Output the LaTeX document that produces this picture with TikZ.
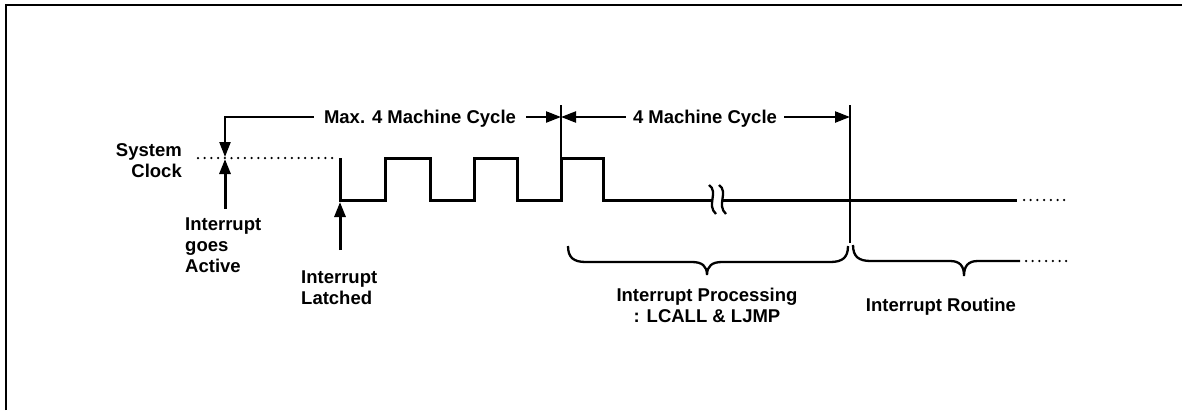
\documentclass[tikz,border=0pt]{standalone}
\usepackage{fontspec}
\setmainfont{Liberation Sans}
\usetikzlibrary{arrows.meta,calc}
\begin{document}
\begin{tikzpicture}[x=1pt,y=-1pt,
  lbl/.style={font=\fontsize{18.5}{21}\selectfont\bfseries, inner sep=0pt},
  wave/.style={line width=3pt, line join=miter},
  thinln/.style={line width=2.3pt},
  arr/.style={line width=3pt},
  dotline/.style={line width=2.5pt, dash pattern=on 0pt off 6.7pt, line cap=round},
  tip/.style={-{Triangle[length=15pt,width=11pt]}},
  bracel/.style={line width=2.3pt}]
\useasboundingbox (0,0) rectangle (1182,410);
\draw[line width=2.5pt] (6,410) -- (6,5) -- (1182,5);

% labels
\node[lbl, anchor=north east, align=right] (sc) at (182,143) {System\\Clock};
\node[lbl, anchor=north west, align=left] (ga) at (185,218) {Interrupt\\goes\\Active};
\node[lbl, anchor=north west, align=left] (il) at (301,271) {Interrupt\\Latched};
\node[lbl, anchor=north, align=center] (ip) at (707,288) {Interrupt Processing\\: LCALL \& LJMP};
\node[lbl, anchor=north, align=center] (ir) at (941,298) {Interrupt Routine};
\node[lbl, anchor=base] (mx) at (420,123) {Max. 4 Machine Cycle};
\node[lbl, anchor=base] (mc) at (705,123) {4 Machine Cycle};

% key points
\coordinate (c1) at (225,117);
\coordinate (t1) at (225,157);
\coordinate (a1) at (225,209);
\coordinate (t2) at (225,159);
\coordinate (a2) at (340,250);
\coordinate (t3) at (340,202);
\coordinate (v1) at (561,117);
\coordinate (v2) at (850,117);

% clock waveform
\draw[dotline] (198,158) -- (335,158);
\draw[wave] (340,158) -- (340,200) -- (385,200) -- (385,158) -- (430,158) -- (430,200)
  -- (474,200) -- (474,158) -- (517,158) -- (517,200) -- (561,200) -- (561,158)
  -- (603,158) -- (603,200) -- (713,200);
\draw[wave] (723,200) -- (1017,200);
\draw[dotline] (1024,200) -- (1068,200);
\draw[line width=2.3pt] (709,185) .. controls (719,192) and (706,205) .. (716,214);
\draw[line width=2.3pt] (719,185) .. controls (729,192) and (716,205) .. (726,214);

% verticals
\draw[thinln] (561,105) -- (561,158);
\draw[thinln] (850,105) -- (850,243);

% dimension arrows
\draw[thinln, tip] ($(mx.base west)+(-10,-6)$) -- (c1) -- (t1);
\draw[thinln, tip] ($(mx.base east)+(10,-6)$) -- (v1);
\draw[thinln, tip] ($(mc.base west)+(-7,-6)$) -- (v1);
\draw[thinln, tip] ($(mc.base east)+(7,-6)$) -- (v2);
\draw[arr, tip] (a1) -- (t2);
\draw[arr, tip] (a2) -- (t3);

% braces
\draw[bracel] (568,246) .. controls (568,258) and (574,262) .. (586,262) -- (692,262)
  .. controls (702,262) and (707,266) .. (707,275)
  .. controls (707,266) and (712,262) .. (722,262) -- (830,262)
  .. controls (842,262) and (848,258) .. (848,246);
\draw[bracel] (853,245) .. controls (853,257) and (859,261) .. (871,261) -- (950,261)
  .. controls (960,261) and (964,266) .. (964,276)
  .. controls (964,266) and (968,261) .. (978,261) -- (1020,261);
\draw[dotline] (1026,261) -- (1068,261);
\end{tikzpicture}
\end{document}
